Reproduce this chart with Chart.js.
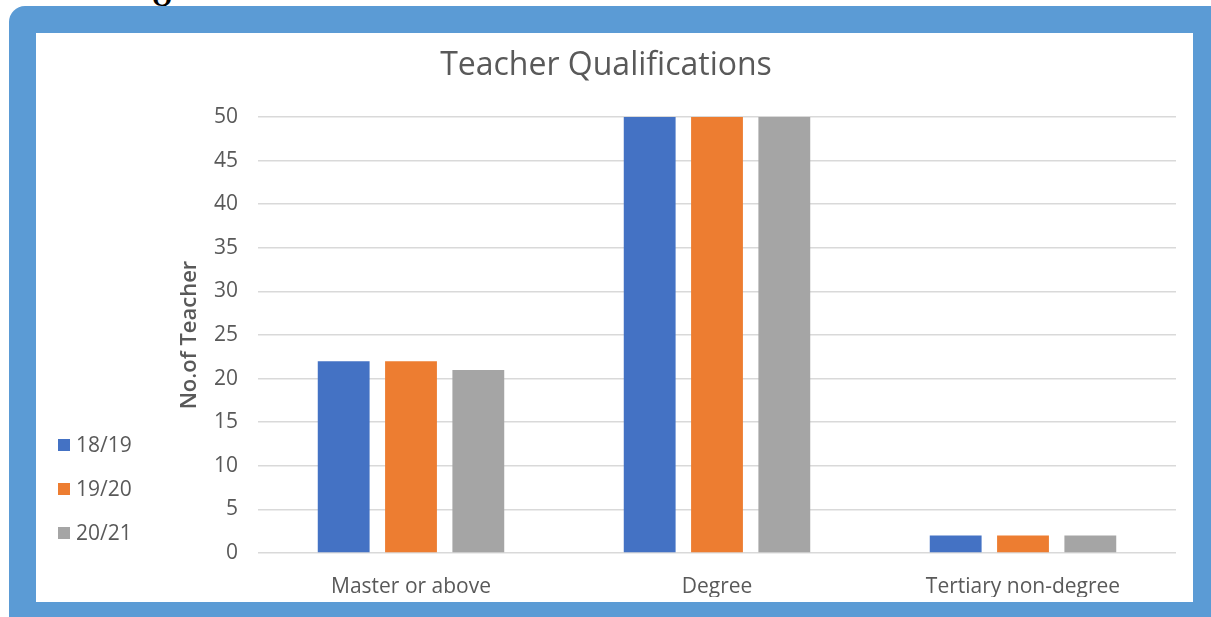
<!DOCTYPE html>
<html>
<head>
<meta charset="utf-8">
<script src="https://cdn.jsdelivr.net/npm/chart.js@4.4.1/dist/chart.umd.min.js"></script>
<style>
  html, body { margin: 0; padding: 0; background: #fff; overflow: hidden; }
  body { width: 1211px; height: 617px; position: relative; }
  .q { position: absolute; left: 152px; top: -17px; font: bold 26px "Liberation Serif", serif; color: #000; }
  .frame { position: absolute; left: 9px; top: 6px; width: 1230px; height: 640px; background: #5b9bd5; border-radius: 16px; }
  .panel { position: absolute; left: 36px; top: 33px; width: 1157px; height: 569px; background: #fff; }
</style>
</head>
<body>
<div class="q">Q</div>
<div class="frame"></div>
<div class="panel"><canvas id="chart" width="1157" height="569"></canvas></div>
<script>
// Teacher qualifications by school year
const categories = ['Master or above', 'Degree', 'Tertiary non-degree'];
const years = ['18/19', '19/20', '20/21'];
const values1819 = [22, 50, 2];
const values1920 = [22, 50, 2];
const values2021 = [21, 50, 2];
const colors = ['#4472c4', '#ed7d31', '#a5a5a5'];

const textColor = '#595959';
const fontFamily = '"Open Sans", "Liberation Sans", sans-serif';

// Legend down the left side, bottom-aligned like the original
const sideLegend = {
  id: 'sideLegend',
  afterDraw(chart) {
    const ctx = chart.ctx;
    ctx.save();
    ctx.font = '21px ' + fontFamily;
    ctx.textBaseline = 'middle';
    chart.data.datasets.forEach((ds, i) => {
      const y = 412 + i * 44;
      ctx.fillStyle = ds.backgroundColor;
      ctx.fillRect(22, y - 6, 12, 12);
      ctx.fillStyle = textColor;
      ctx.fillText(ds.label, 40, y + 1);
    });
    ctx.restore();
  }
};

const seriesValues = [values1819, values1920, values2021];

new Chart(document.getElementById('chart'), {
  type: 'bar',
  data: {
    labels: categories,
    datasets: years.map((y, i) => ({
      label: y,
      data: seriesValues[i],
      backgroundColor: colors[i],
      barPercentage: 0.77,
      categoryPercentage: 0.66
    }))
  },
  options: {
    responsive: false,
    animation: false,
    layout: { padding: { left: 0, right: 17, top: 0, bottom: 5 } },
    plugins: {
      legend: { display: false },
      tooltip: { enabled: false },
      title: {
        display: true,
        text: 'Teacher Qualifications',
        color: textColor,
        font: { family: fontFamily, size: 32, weight: 'normal' },
        padding: { top: 14, bottom: 31.6 }
      }
    },
    scales: {
      x: {
        grid: { display: false, drawTicks: false },
        border: { display: false },
        ticks: {
          color: textColor,
          font: { family: fontFamily, size: 21 },
          padding: 21
        },
        afterFit(scale) {
          scale.height = 44;
        }
      },
      y: {
        min: 0,
        max: 50,
        ticks: {
          stepSize: 5,
          color: textColor,
          font: { family: fontFamily, size: 21 },
          padding: 20
        },
        grid: { color: '#d9d9d9', lineWidth: 1.5, drawTicks: false },
        border: { display: false },
        title: {
          display: true,
          text: 'No.of Teacher',
          color: textColor,
          font: { family: fontFamily, size: 22, weight: '600' },
          padding: { top: 141, bottom: 0 }
        },
        afterFit(scale) {
          scale.width = 222;
        }
      }
    }
  },
  plugins: [sideLegend]
});
</script>
</body>
</html>
